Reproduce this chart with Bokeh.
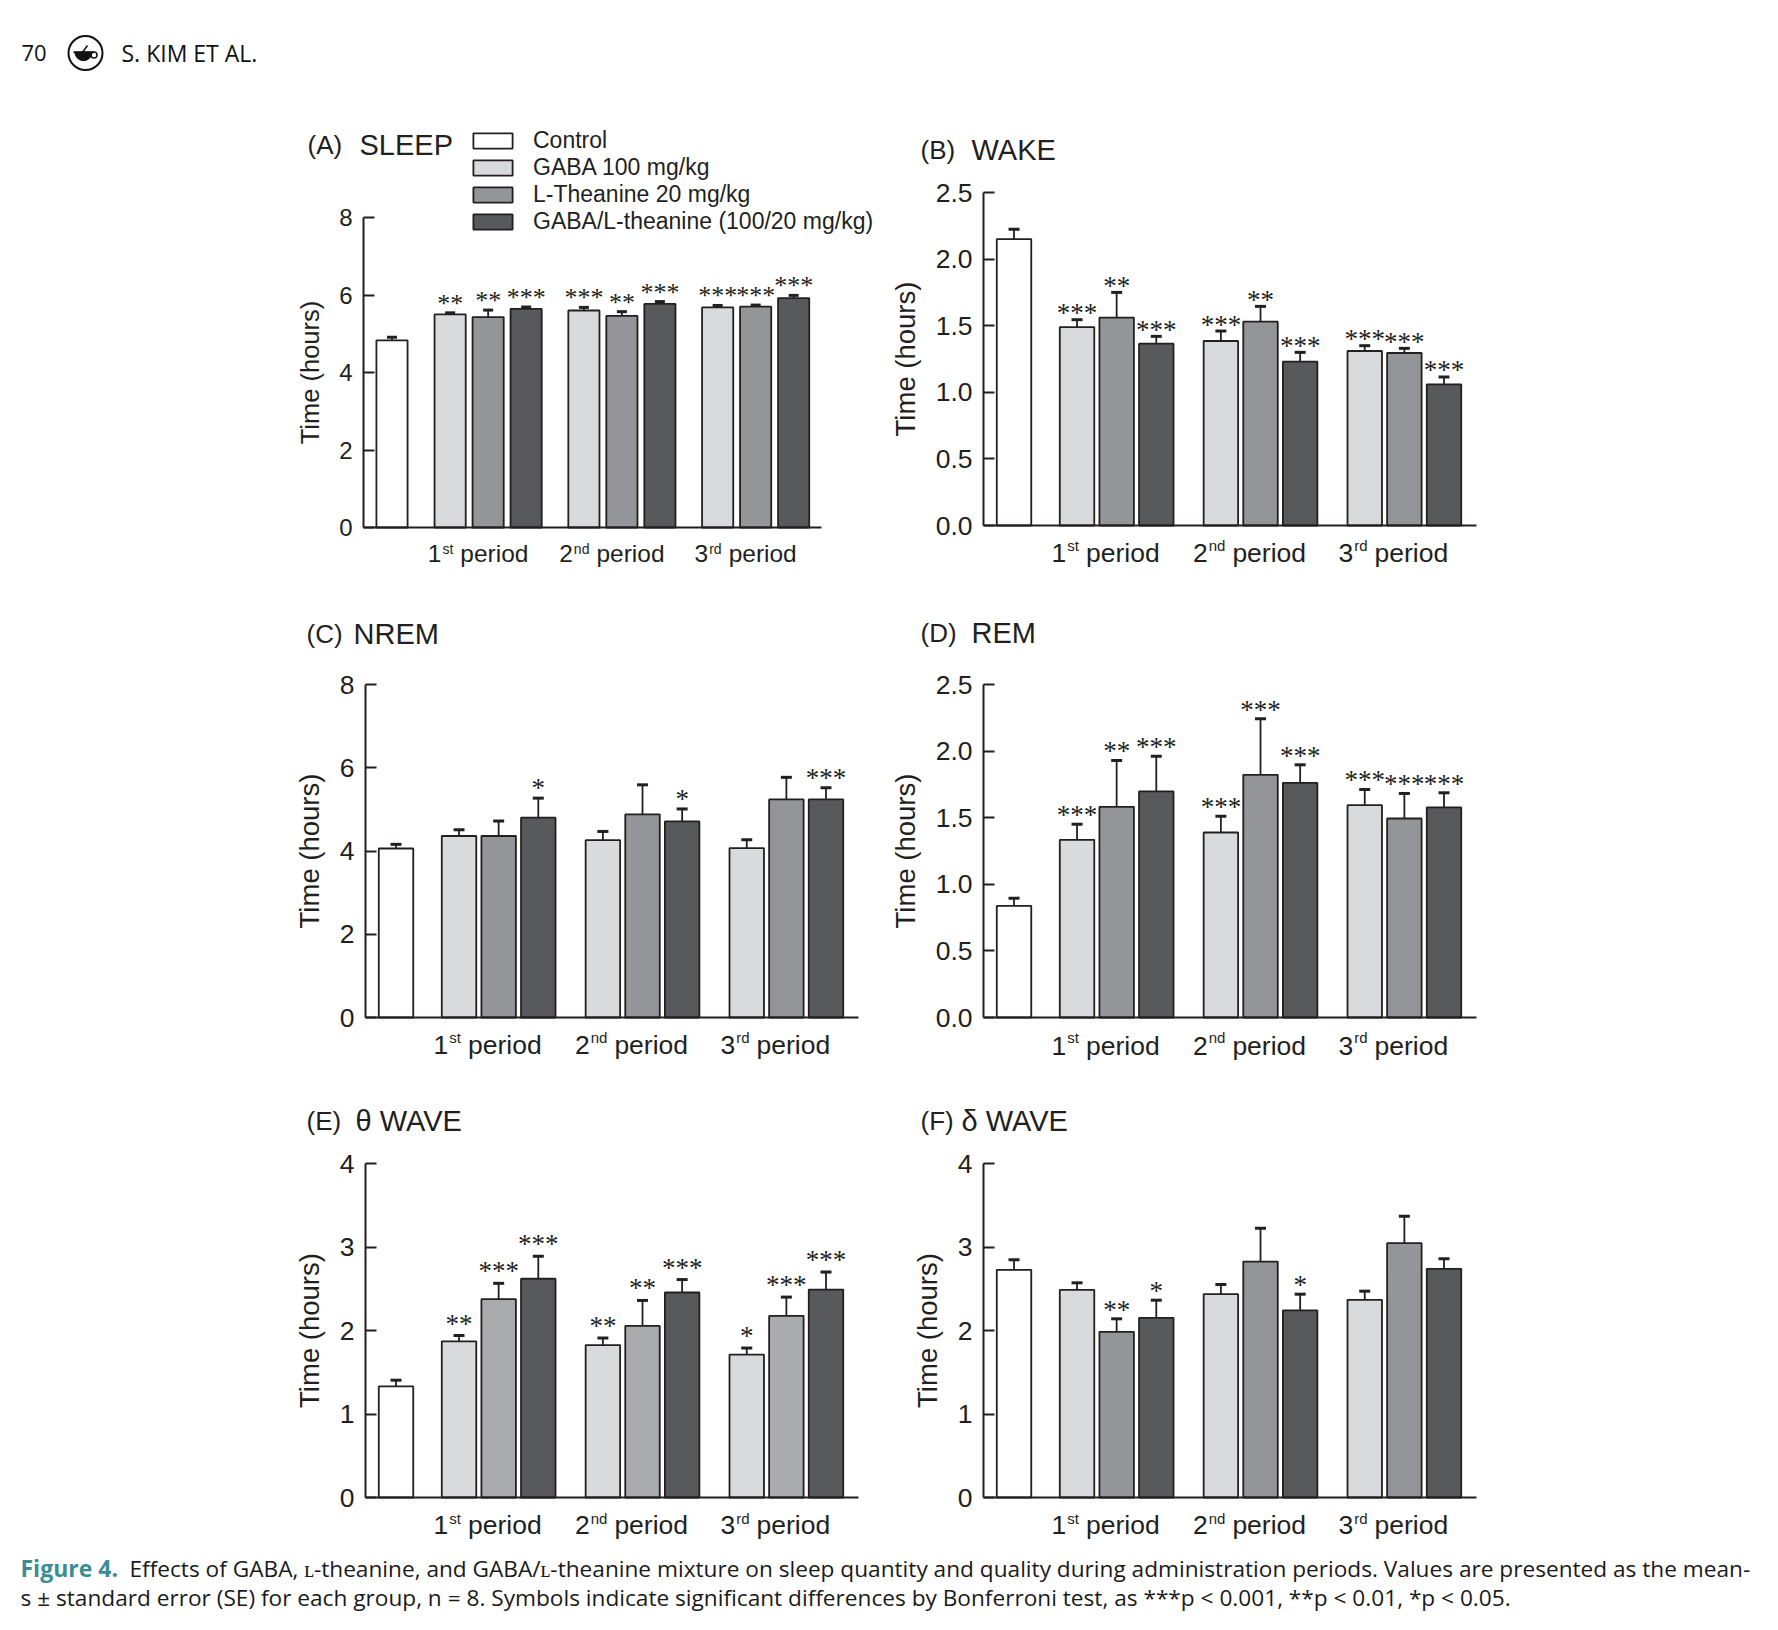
import numpy as np
from bokeh.plotting import figure
from bokeh.models import (Range1d, FixedTicker, PrintfTickFormatter, Label, Legend,
                          LegendItem, ColumnDataSource)
from bokeh.layouts import column, row
from bokeh.embed import file_html
from bokeh.resources import INLINE
from bokeh.core.properties import value

# ---------------- data ----------------
group_labels = ["Control", "GABA 100 mg/kg", "L-Theanine 20 mg/kg", "GABA/L-theanine (100/20 mg/kg)"]
period_nums = ["1", "2", "3"]
period_sups = ["st", "nd", "rd"]
period_word = "period"

# (A) SLEEP
sleep_ctrl, sleep_ctrl_se = 4.83, 0.08
sleep_gaba = [5.50, 5.60, 5.68]; sleep_gaba_se = [0.04, 0.08, 0.05]
sleep_lth = [5.43, 5.46, 5.70]; sleep_lth_se = [0.18, 0.11, 0.04]
sleep_mix = [5.64, 5.77, 5.92]; sleep_mix_se = [0.05, 0.06, 0.07]
sleep_stars = [["**", "***", "***"], ["**", "**", "***"], ["***", "***", "***"]]

# (B) WAKE
wake_ctrl, wake_ctrl_se = 2.15, 0.075
wake_gaba = [1.49, 1.385, 1.31]; wake_gaba_se = [0.055, 0.075, 0.04]
wake_lth = [1.56, 1.53, 1.295]; wake_lth_se = [0.19, 0.115, 0.035]
wake_mix = [1.365, 1.23, 1.06]; wake_mix_se = [0.055, 0.07, 0.055]
wake_stars = [["***", "***", "***"], ["**", "**", "***"], ["***", "***", "***"]]

# (C) NREM
nrem_ctrl, nrem_ctrl_se = 4.06, 0.10
nrem_gaba = [4.36, 4.26, 4.07]; nrem_gaba_se = [0.15, 0.21, 0.20]
nrem_lth = [4.36, 4.88, 5.24]; nrem_lth_se = [0.36, 0.71, 0.53]
nrem_mix = [4.80, 4.71, 5.24]; nrem_mix_se = [0.47, 0.30, 0.28]
nrem_stars = [["", "", ""], ["", "", ""], ["*", "*", "***"]]

# (D) REM
rem_ctrl, rem_ctrl_se = 0.838, 0.058
rem_gaba = [1.334, 1.389, 1.594]; rem_gaba_se = [0.117, 0.122, 0.118]
rem_lth = [1.582, 1.822, 1.494]; rem_lth_se = [0.348, 0.420, 0.188]
rem_mix = [1.697, 1.762, 1.577]; rem_mix_se = [0.265, 0.135, 0.110]
rem_stars = [["***", "***", "***"], ["**", "***", "***"], ["***", "***", "***"]]

# (E) theta wave
theta_ctrl, theta_ctrl_se = 1.33, 0.075
theta_gaba = [1.87, 1.825, 1.71]; theta_gaba_se = [0.07, 0.085, 0.08]
theta_lth = [2.375, 2.055, 2.175]; theta_lth_se = [0.19, 0.305, 0.225]
theta_mix = [2.62, 2.455, 2.49]; theta_mix_se = [0.27, 0.155, 0.21]
theta_stars = [["**", "**", "*"], ["***", "**", "***"], ["***", "***", "***"]]

# (F) delta wave
delta_ctrl, delta_ctrl_se = 2.727, 0.12
delta_gaba = [2.487, 2.435, 2.367]; delta_gaba_se = [0.084, 0.116, 0.104]
delta_lth = [1.984, 2.826, 3.046]; delta_lth_se = [0.156, 0.40, 0.323]
delta_mix = [2.152, 2.24, 2.739]; delta_mix_se = [0.211, 0.195, 0.119]
delta_stars = [["", "", ""], ["**", "", ""], ["*", "*", ""]]

# ---------------- style ----------------
INK = "#231f20"
COLORS = ["#ffffff", "#d9dadc", "#949599", "#58595b"]
FONT = "Liberation Sans"


def make_panel(letter, name, ctrl, ctrl_se, series, ses, stars, ymax, yticks, fmt,
               cell, bars, fs, lth_color=None, legend=False):
    # cell: page geometry (left, top, width, height, x0_px, y0_px, ytop_px, px_per_xunit, xaxis_end_px)
    cl, ct, cw, ch, ox, oy, ytop, xu, xend_px = cell
    c0, g0, gs, bw = bars
    yu = (oy - ytop) / ymax
    x_range = Range1d((cl - ox) / xu, (cl + cw - ox) / xu)
    y_range = Range1d((oy - (ct + ch)) / yu, (oy - ct) / yu)
    xend = (xend_px - ox) / xu

    p = figure(width=cw, height=ch, x_range=x_range, y_range=y_range, min_border=0,
               output_backend="svg", toolbar_location=None, tools="", title=None)
    p.xgrid.visible = False
    p.ygrid.visible = False
    p.outline_line_color = None
    p.background_fill_color = "white"
    p.border_fill_color = "white"

    yax = p.yaxis[0]
    yax.fixed_location = 0
    yax.bounds = (0, ymax)
    yax.ticker = FixedTicker(ticks=yticks)
    yax.formatter = PrintfTickFormatter(format=fmt)
    yax.major_tick_in = 11
    yax.major_tick_out = 0
    yax.minor_tick_in = 0
    yax.minor_tick_out = 0
    yax.axis_line_width = 2
    yax.axis_line_color = INK
    yax.major_tick_line_width = 2
    yax.major_tick_line_color = INK
    yax.major_label_text_font = FONT
    yax.major_label_text_font_size = f"{fs['tick']}px"
    yax.major_label_text_color = INK
    yax.major_label_standoff = 11
    yax.axis_label = "Time (hours)"
    yax.axis_label_text_font = FONT
    yax.axis_label_text_font_style = "normal"
    yax.axis_label_text_font_size = f"{fs['alabel']}px"
    yax.axis_label_text_color = INK
    yax.axis_label_standoff = 12

    xax = p.xaxis[0]
    xax.fixed_location = 0
    xax.bounds = (0, xend)
    xax.ticker = FixedTicker(ticks=[])
    xax.major_tick_in = 0
    xax.major_tick_out = 0
    xax.minor_tick_in = 0
    xax.minor_tick_out = 0
    xax.major_label_text_font_size = "0px"
    xax.axis_line_width = 2
    xax.axis_line_color = INK

    colors = list(COLORS)
    if lth_color:
        colors[2] = lth_color

    renderers = []
    src = ColumnDataSource(dict(x=[c0], top=[ctrl]))
    r = p.vbar(x="x", top="top", width=bw, bottom=0, source=src, fill_color=colors[0],
               line_color=INK, line_width=1.8)
    renderers.append(r)
    all_x, all_top, all_err, all_star = [c0], [ctrl], [ctrl + ctrl_se], [""]
    for k in range(3):
        xs = [g0 + pi * gs + k for pi in range(3)]
        tops = list(series[k])
        errs = [t + s for t, s in zip(series[k], ses[k])]
        src = ColumnDataSource(dict(x=xs, top=tops))
        r = p.vbar(x="x", top="top", width=bw, bottom=0, source=src, fill_color=colors[k + 1],
                   line_color=INK, line_width=1.8)
        renderers.append(r)
        all_x += xs; all_top += tops; all_err += errs; all_star += stars[k]

    esrc = ColumnDataSource(dict(x=all_x, top=all_top, err=all_err, stars=all_star))
    p.segment(x0="x", y0="top", x1="x", y1="err", source=esrc, line_color=INK, line_width=1.8)
    p.scatter(x="x", y="err", source=esrc, marker="dash", size=fs["cap"], line_color=INK,
              line_width=3)
    p.text(x="x", y="err", text="stars", source=esrc, text_align="center",
           text_baseline="middle", y_offset=fs["star_off"], text_font=value("Liberation Serif"),
           text_font_size=f"{fs['star']}px", text_color=INK)

    # period labels (below the x axis)
    f_main = fs["xlab"]
    f_sup = fs["sup"]
    y_main = (ct + ch) - fs["xlab_y"]
    y_sup = (ct + ch) - (fs["xlab_y"] - fs["sup_raise"])
    for i in range(3):
        cx = g0 + i * gs + 1.0
        num_w = 0.556 * f_main
        sup_w = {"st": 0.778, "nd": 1.112, "rd": 0.889}[period_sups[i]] * f_sup
        per_w = 2.78 * f_main
        total = num_w + 1 + sup_w + 7 + per_w
        start = -fs["xshift"] - total / 2.0
        common = dict(x=cx, x_units="data", y_units="screen", text_font=FONT,
                      text_color=INK, text_align="left", text_baseline="middle")
        p.add_layout(Label(text=period_nums[i], x_offset=start, y=y_main,
                           text_font_size=f"{f_main}px", **common))
        p.add_layout(Label(text=period_sups[i], x_offset=start + num_w + 1, y=y_sup,
                           text_font_size=f"{f_sup}px", **common))
        p.add_layout(Label(text=period_word, x_offset=start + num_w + 1 + sup_w + 7, y=y_main,
                           text_font_size=f"{f_main}px", **common))

    # panel title
    tx, nx, tyc = fs["title"]
    p.add_layout(Label(text=f"({letter})", x=tx - cl, y=(ct + ch) - tyc, x_units="screen",
                       y_units="screen", text_font=FONT, text_font_size="26px", text_color=INK,
                       text_baseline="middle"))
    p.add_layout(Label(text=name, x=nx - cl, y=(ct + ch) - tyc, x_units="screen",
                       y_units="screen", text_font=FONT, text_font_size="29px", text_color=INK,
                       text_baseline="middle"))

    if legend:
        items = [LegendItem(label=group_labels[i], renderers=[renderers[i]]) for i in range(4)]
        lg = Legend(items=items, location=(468 - cl, (ct + ch) - 235), orientation="vertical",
                    glyph_width=49, glyph_height=19, label_standoff=16, spacing=0, padding=0,
                    margin=0, border_line_color=None, background_fill_alpha=0,
                    label_text_font=FONT, label_text_font_size="23px", label_text_color=INK,
                    label_height=26, label_text_baseline="middle")
        p.add_layout(lg, "center")
    return p


BARS_A = (0.75, 2.28, 3.52, 0.82)
BARS = (0.77, 2.36, 3.63, 0.87)

fsA = dict(tick=24, alabel=25.5, xlab=24.5, sup=14, star=26, star_off=-9.5, cap=10,
           xshift=10, xlab_y=553, sup_raise=5, title=(307, 359, 144))


def fs_std(xlab_y, sup_raise, title, star_off):
    return dict(tick=26.5, alabel=27.5, xlab=26.5, sup=15, star=27, star_off=star_off, cap=11,
                xshift=11, xlab_y=xlab_y, sup_raise=sup_raise, title=title)


pA = make_panel("A", "SLEEP", sleep_ctrl, sleep_ctrl_se, [sleep_gaba, sleep_lth, sleep_mix],
                [sleep_gaba_se, sleep_lth_se, sleep_mix_se], sleep_stars, 8, [0, 2, 4, 6, 8], "%d",
                (0, 100, 880, 485, 363, 527, 217, 38.0, 821), BARS_A, fsA, legend=True)
pB = make_panel("B", "WAKE", wake_ctrl, wake_ctrl_se, [wake_gaba, wake_lth, wake_mix],
                [wake_gaba_se, wake_lth_se, wake_mix_se], wake_stars, 2.5,
                [0, 0.5, 1.0, 1.5, 2.0, 2.5], "%.1f",
                (880, 100, 898, 485, 983, 525, 192, 39.63, 1476), BARS,
                fs_std(552.5, 8, (920, 971, 149), -6.5))
pC = make_panel("C", "NREM", nrem_ctrl, nrem_ctrl_se, [nrem_gaba, nrem_lth, nrem_mix],
                [nrem_gaba_se, nrem_lth_se, nrem_mix_se], nrem_stars, 8, [0, 2, 4, 6, 8], "%d",
                (0, 585, 880, 480, 365, 1017, 684, 39.63, 858), BARS,
                fs_std(1044, 7, (306, 353, 633), -10))
pD = make_panel("D", "REM", rem_ctrl, rem_ctrl_se, [rem_gaba, rem_lth, rem_mix],
                [rem_gaba_se, rem_lth_se, rem_mix_se], rem_stars, 2.5,
                [0, 0.5, 1.0, 1.5, 2.0, 2.5], "%.1f",
                (880, 585, 898, 480, 983, 1017, 684, 39.63, 1476), BARS,
                fs_std(1045, 8, (920, 971, 632), -9))
pE = make_panel("E", "θ WAVE", theta_ctrl, theta_ctrl_se, [theta_gaba, theta_lth, theta_mix],
                [theta_gaba_se, theta_lth_se, theta_mix_se], theta_stars, 4, [0, 1, 2, 3, 4], "%d",
                (0, 1065, 880, 480, 365, 1497, 1163, 39.63, 858), BARS,
                fs_std(1524, 6, (306, 355, 1120), -12), lth_color="#aaabad")
pF = make_panel("F", "δ WAVE", delta_ctrl, delta_ctrl_se, [delta_gaba, delta_lth, delta_mix],
                [delta_gaba_se, delta_lth_se, delta_mix_se], delta_stars, 4, [0, 1, 2, 3, 4], "%d",
                (880, 1065, 898, 480, 983, 1497, 1163, 39.63, 1476), BARS,
                fs_std(1524, 6, (920, 961, 1120), -9))

# ---------------- header ----------------
hdr = figure(width=1778, height=100, x_range=Range1d(0, 1778), y_range=Range1d(0, 100),
             output_backend="svg", toolbar_location=None, tools="", title=None,
             x_axis_type=None, y_axis_type=None, min_border=0)
hdr.xgrid.visible = False; hdr.ygrid.visible = False
hdr.outline_line_color = None
hdr.text(x=[21], y=[47.5], text=["70"], text_font=value("Open Sans"), text_font_size="22px",
         text_color="#111111", text_baseline="middle")
hdr.text(x=[121], y=[47.5], text=["S. KIM ET AL."], text_font=value("Open Sans"),
         text_font_size="23px", text_color="#111111", text_baseline="middle")
hdr.scatter(x=[85], y=[47.5], marker="circle", size=34, fill_color=None, line_color="#111111",
            line_width=2)
hdr.wedge(x=[83], y=[48.3], radius=8.5, start_angle=np.pi, end_angle=2 * np.pi,
          fill_color="#111111", line_color="#111111")
hdr.segment(x0=[73], y0=[48.3], x1=[93], y1=[48.3], line_color="#111111", line_width=2)
hdr.segment(x0=[82], y0=[48.3], x1=[87], y1=[55], line_color="#111111", line_width=1.5)
hdr.scatter(x=[93.5], y=[45.5], marker="circle", size=6, fill_color=None, line_color="#111111",
            line_width=1.5)

# ---------------- caption ----------------
cap = figure(width=1778, height=85, x_range=Range1d(0, 1778), y_range=Range1d(0, 85),
             output_backend="svg", toolbar_location=None, tools="", title=None,
             x_axis_type=None, y_axis_type=None, min_border=0)
cap.xgrid.visible = False; cap.ygrid.visible = False
cap.outline_line_color = None
cap_font = value("Open Sans")
cap.text(x=[20], y=[62.5], text=["Figure 4."], text_font=cap_font, text_font_size="23px",
         text_font_style="bold", text_color="#3a8c95", text_baseline="middle")
cap.text(x=[129], y=[62.5],
         text=["Effects of GABA, ʟ-theanine, and GABA/ʟ-theanine mixture on sleep quantity and "
               "quality during administration periods. Values are presented as the mean-"],
         text_font=cap_font, text_font_size="22.65px", text_color="#1a1a1a", text_baseline="middle")
cap.text(x=[20], y=[33],
         text=["s ± standard error (SE) for each group, n = 8. Symbols indicate significant "
               "differences by Bonferroni test, as ***p < 0.001, **p < 0.01, *p < 0.05."],
         text_font=cap_font, text_font_size="22.65px", text_color="#1a1a1a", text_baseline="middle")

layout = column(hdr, row(pA, pB), row(pC, pD), row(pE, pF), cap)

with open("out.html", "w") as f:
    f.write(file_html(layout, INLINE))
